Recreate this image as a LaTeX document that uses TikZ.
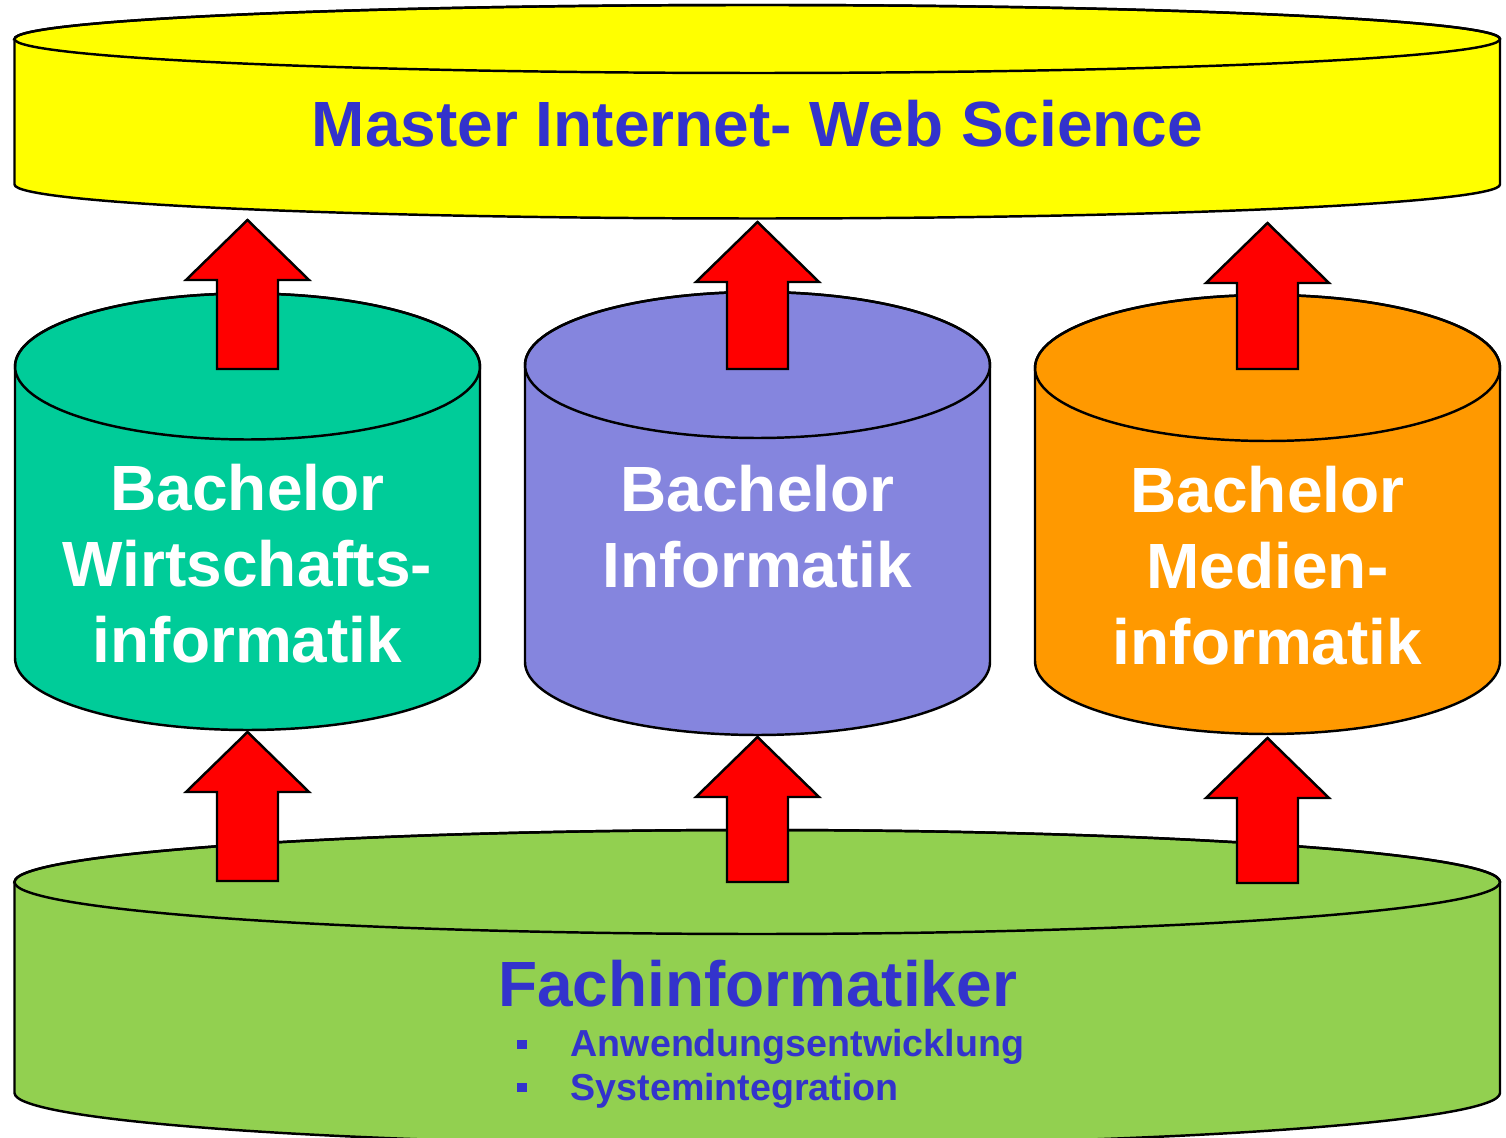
\documentclass[tikz,border=0pt]{standalone}
\usepackage{fontspec}
\setmainfont{Liberation Sans}
\usetikzlibrary{positioning}

\definecolor{masteryellow}{HTML}{FFFF00}
\definecolor{wigreen}{HTML}{00CC99}
\definecolor{infpurple}{HTML}{8585DE}
\definecolor{mediorange}{HTML}{FF9900}
\definecolor{fachgreen}{HTML}{92D050}
\definecolor{textblue}{HTML}{3333CC}

\begin{document}
\begin{tikzpicture}[
    cyl/.style={draw=black,line width=0.7pt},
    blockarrow/.style={draw=black,line width=0.7pt,fill=red,line join=miter},
    bigtext/.style={font=\fontsize{18.2}{21.6}\selectfont\bfseries},
    smalltext/.style={font=\fontsize{10.7}{12.5}\selectfont\bfseries,text=textblue,inner sep=0pt}
]
\useasboundingbox (0,0) rectangle (15.06,-11.38);
\clip (0,0) rectangle (15.06,-11.38);

% master
\draw[cyl,fill=masteryellow] (0.145,-0.39)--(0.145,-1.845) arc[start angle=180,end angle=360,x radius=7.4275,y radius=0.34]
    --(15,-0.39) arc[start angle=0,end angle=180,x radius=7.4275,y radius=0.34]--cycle;
\draw[cyl] (7.5725,-0.39) ellipse[x radius=7.4275,y radius=0.34];
\node[bigtext,text=textblue,anchor=base] (master) at (7.575,-1.47) {Master Internet- Web Science};

% bachelor
\draw[cyl,fill=wigreen] (0.15,-3.665)--(0.15,-6.58) arc[start angle=180,end angle=360,x radius=2.325,y radius=0.72]
    --(4.8,-3.665) arc[start angle=0,end angle=180,x radius=2.325,y radius=0.73]--cycle;
\draw[cyl] (2.475,-3.665) ellipse[x radius=2.325,y radius=0.73];

\draw[cyl,fill=infpurple] (5.25,-3.65)--(5.25,-6.62) arc[start angle=180,end angle=360,x radius=2.325,y radius=0.73]
    --(9.9,-3.65) arc[start angle=0,end angle=180,x radius=2.325,y radius=0.73]--cycle;
\draw[cyl] (7.575,-3.65) ellipse[x radius=2.325,y radius=0.73];

\draw[cyl,fill=mediorange] (10.35,-3.68)--(10.35,-6.61) arc[start angle=180,end angle=360,x radius=2.325,y radius=0.73]
    --(15,-3.68) arc[start angle=0,end angle=180,x radius=2.325,y radius=0.73]--cycle;
\draw[cyl] (12.675,-3.68) ellipse[x radius=2.325,y radius=0.73];

\node[bigtext,text=white,align=center] (bwi) at (2.475,-5.64) {Bachelor\\Wirtschafts-\\informatik};
\node[bigtext,text=white,align=center] (binf) at (7.575,-5.265) {Bachelor\\Informatik};
\node[bigtext,text=white,align=center] (bmi) at (12.675,-5.66) {Bachelor\\Medien-\\informatik};

% fachinformatiker
\draw[cyl,fill=fachgreen] (0.145,-8.82)--(0.145,-10.93) arc[start angle=180,end angle=360,x radius=7.4275,y radius=0.52]
    --(15,-8.82) arc[start angle=0,end angle=180,x radius=7.4275,y radius=0.52]--cycle;
\draw[cyl] (7.5725,-8.82) ellipse[x radius=7.4275,y radius=0.52];
\node[bigtext,text=textblue,anchor=base] (fach) at (7.575,-10.07) {Fachinformatiker};

\node[smalltext,anchor=base west] (anw) at (5.70,-10.57) {Anwendungsentwicklung};
\node[smalltext,anchor=base west] (sys) at (5.70,-11.01) {Systemintegration};
\fill[textblue] (5.17,-10.40) rectangle (5.265,-10.495);
\fill[textblue] (5.17,-10.83) rectangle (5.265,-10.925);

% arrows
\foreach \x/\tip/\bot in {2.475/-2.20/-3.69, 7.575/-2.22/-3.69, 12.675/-2.23/-3.69,
                          2.475/-7.32/-8.81, 7.575/-7.37/-8.82, 12.675/-7.38/-8.83}
  \draw[blockarrow] (\x-0.305,\bot)--(\x-0.305,\tip-0.6)--(\x-0.615,\tip-0.6)--(\x,\tip)
      --(\x+0.615,\tip-0.6)--(\x+0.305,\tip-0.6)--(\x+0.305,\bot)--cycle;

\end{tikzpicture}
\end{document}
